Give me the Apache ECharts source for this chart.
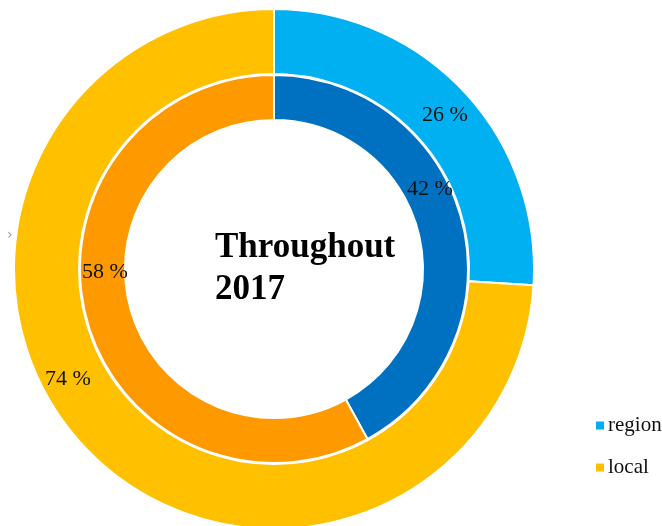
<!DOCTYPE html>
<html>
<head>
<meta charset="utf-8">
<script src="https://cdn.jsdelivr.net/npm/echarts@6/dist/echarts.min.js"></script>
<style>
  html, body { margin: 0; padding: 0; background: #fff; }
  #main { width: 662px; height: 526px; }
</style>
</head>
<body>
<div id="main"></div>
<script>
var categories = ['region', 'local'];
var outerValues = [26, 74];
var innerValues = [42, 58];
var outerColors = ['#00B0F0', '#FFC000'];
var innerColors = ['#0070C0', '#FF9900'];
// label nudges, the original places them by hand
var outerNudge = [[3, 4], [-38, -48]];
var innerNudge = [[-13, -36], [0, -40]];

var chart = echarts.init(document.getElementById('main'));

function toData(values, colors) {
  return categories.map(function (name, i) {
    return { name: name, value: values[i], itemStyle: { color: colors[i] } };
  });
}

function ring(values, colors, radius, nudge) {
  return {
    type: 'pie',
    center: [274, 269],
    radius: radius,
    startAngle: 90,
    clockwise: true,
    silent: true,
    itemStyle: { borderColor: '#fff', borderWidth: 2 },
    label: {
      show: true,
      position: 'inside',
      formatter: '{c} %',
      color: '#111',
      fontFamily: 'Liberation Serif',
      fontSize: 22
    },
    labelLine: { show: false },
    labelLayout: function (p) {
      var n = nudge[p.dataIndex];
      return { dx: n[0], dy: n[1] };
    },
    data: toData(values, colors)
  };
}

chart.setOption({
  animation: false,
  title: {
    text: 'Throughout\n2017',
    left: 210,
    top: 222,
    textStyle: {
      fontFamily: 'Liberation Serif',
      fontWeight: 'bold',
      fontSize: 35,
      lineHeight: 42,
      color: '#000'
    }
  },
  legend: {
    orient: 'vertical',
    left: 589,
    top: 410,
    icon: 'rect',
    itemWidth: 10,
    itemHeight: 10,
    itemGap: 21,
    selectedMode: false,
    data: categories,
    textStyle: { fontFamily: 'Liberation Serif', fontSize: 21, color: '#111', padding: [0, 0, 0, -2] }
  },
  graphic: [{
    type: 'text',
    left: 7,
    top: 228,
    style: { text: '›', fill: '#999', fontSize: 14, fontFamily: 'DejaVu Sans' }
  }],
  series: [
    ring(outerValues, outerColors, [195, 260], outerNudge),
    ring(innerValues, innerColors, [149, 194], innerNudge)
  ]
});
</script>
</body>
</html>
